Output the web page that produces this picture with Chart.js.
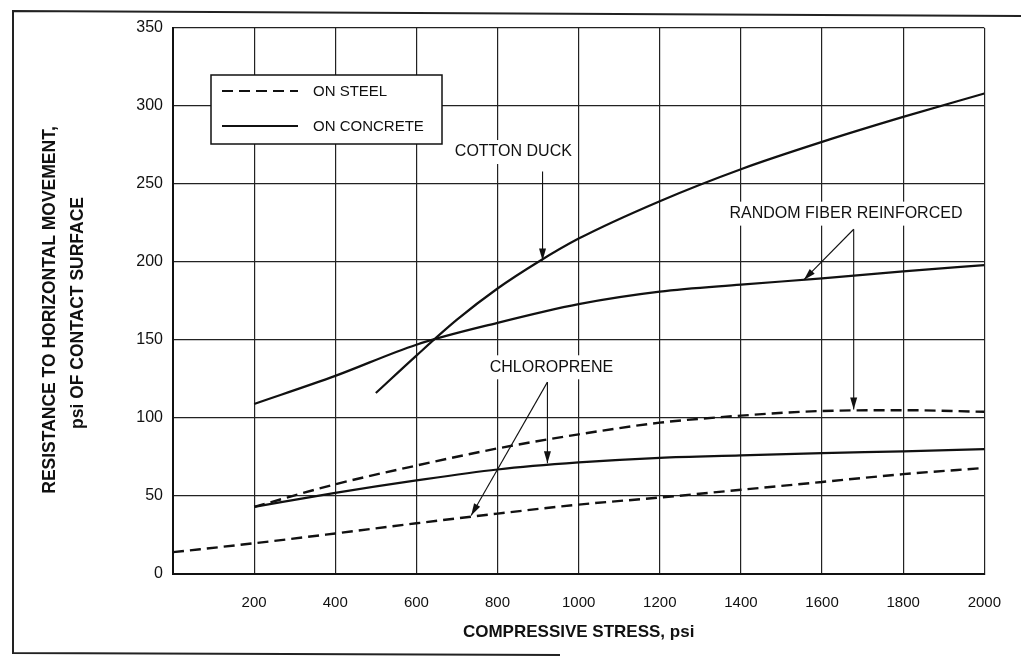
<!DOCTYPE html>
<html>
<head>
<meta charset="utf-8">
<script src="https://cdn.jsdelivr.net/npm/chart.js@4.4.1/dist/chart.umd.min.js"></script>
<style>
html,body{margin:0;padding:0;background:#fff;}
</style>
</head>
<body>
<canvas id="mycanvas" width="1021" height="658"></canvas>
<script>
// values
var xTicks=[0,200,400,600,800,1000,1200,1400,1600,1800,2000];
var yTicks=[0,50,100,150,200,250,300,350];

var cottonX=[500,600,700,800,900,1000,1200,1400,1600,1800,2000];
var cottonY=[116,140,163,183,200,215,239,259.5,277,293,308];

var fiberX=[200,400,600,800,1000,1200,1400,1600,1800,2000];
var fiberConcreteY=[109,127,147,161,173,181,185.5,189.5,194,198];
var fiberSteelY=[43,57.5,69.5,80.5,89.5,97,101.5,104.5,105,104];

var chloroConcreteX=[200,400,600,800,1000,1200,1400,1600,1800,2000];
var chloroConcreteY=[43,52,60,67,71.5,74.5,76,77.5,78.6,80];
var chloroSteelX=[0,200,400,600,800,1000,1200,1400,1600,1800,2000];
var chloroSteelY=[14,19.7,26,32.5,38.7,44.5,49,54,59,64,68];

var yTitle=['RESISTANCE TO HORIZONTAL MOVEMENT,','psi OF CONTACT SURFACE'];
var xTitle='COMPRESSIVE STRESS, psi';

// labels with arrows, in data units: text centre, arrow start, arrow tips
var notes=[
	{text:'COTTON DUCK', x:839, y:270.5, from:[911,258], tips:[[911,201]]},
	{text:'RANDOM FIBER REINFORCED', x:1659, y:231, from:[1678,221], tips:[[1678,105.5],[1555,188.5]]},
	{text:'CHLOROPRENE', x:933, y:132.5, from:[923,123], tips:[[923,71],[735,37.5]]}
];

var fam='"Liberation Sans", Arial, Helvetica, sans-serif';
var ink='#111';

function pts(xs,ys){
	var out=[];
	for(var i in xs){ out.push({x:xs[i],y:ys[i]}); }
	return out;
}

function arrow(ctx,x1,y1,x2,y2){
	ctx.beginPath();
	ctx.moveTo(x1,y1);
	ctx.lineTo(x2,y2);
	ctx.stroke();
	var a=Math.atan2(y2-y1,x2-x1), len=12, w=3.5;
	ctx.beginPath();
	ctx.moveTo(x2,y2);
	ctx.lineTo(x2-len*Math.cos(a)+w*Math.sin(a), y2-len*Math.sin(a)-w*Math.cos(a));
	ctx.lineTo(x2-len*Math.cos(a)-w*Math.sin(a), y2-len*Math.sin(a)+w*Math.cos(a));
	ctx.closePath();
	ctx.fill();
}

var paperPlugin={
	id:'paper',
	beforeDraw:function(chart){
		var c=chart.ctx;
		c.save();
		c.fillStyle='#fff';
		c.fillRect(0,0,chart.width,chart.height);
		// outer frame of the scanned page
		c.strokeStyle='#222';
		c.lineWidth=2;
		c.beginPath();
		c.moveTo(1021,16);
		c.lineTo(13,11);
		c.lineTo(13,653);
		c.lineTo(560,655);
		c.stroke();
		// y axis title, two lines
		c.fillStyle=ink;
		c.font='bold 17.5px '+fam;
		c.textAlign='center';
		c.textBaseline='middle';
		c.translate(50,310);
		c.rotate(-Math.PI/2);
		c.fillText(yTitle[0],0,0);
		c.fillText(yTitle[1],-3,28);
		c.restore();
	},
	afterDatasetsDraw:function(chart){
		var c=chart.ctx, xs=chart.scales.x, ys=chart.scales.y, area=chart.chartArea;
		c.save();
		// notes
		c.font='16px '+fam;
		c.textAlign='center';
		c.textBaseline='middle';
		c.strokeStyle=ink;
		c.fillStyle=ink;
		c.lineWidth=1.1;
		notes.forEach(function(n){
			var tx=xs.getPixelForValue(n.x), ty=ys.getPixelForValue(n.y);
			var w=c.measureText(n.text).width;
			c.fillStyle='#fff';
			c.fillRect(tx-w/2-6,ty-12,w+12,24);
			c.fillStyle=ink;
			c.fillText(n.text,tx,ty);
			var fx=xs.getPixelForValue(n.from[0]), fy=ys.getPixelForValue(n.from[1]);
			n.tips.forEach(function(t){
				arrow(c,fx,fy,xs.getPixelForValue(t[0]),ys.getPixelForValue(t[1]));
			});
		});
		// legend box
		var bx=area.left+38, by=area.top+47, bw=231, bh=69;
		c.fillStyle='#fff';
		c.fillRect(bx,by,bw,bh);
		c.lineWidth=1.5;
		c.strokeRect(bx,by,bw,bh);
		c.lineWidth=2;
		c.setLineDash([11,6]);
		c.beginPath();
		c.moveTo(bx+11,by+16);
		c.lineTo(bx+87,by+16);
		c.stroke();
		c.setLineDash([]);
		c.beginPath();
		c.moveTo(bx+11,by+51);
		c.lineTo(bx+87,by+51);
		c.stroke();
		c.fillStyle=ink;
		c.textAlign='left';
		c.font='15px '+fam;
		c.fillText('ON STEEL',bx+102,by+17);
		c.fillText('ON CONCRETE',bx+102,by+52);
		c.restore();
	}
};

function line(label,data,dashed){
	return {
		label:label,
		data:data,
		borderColor:ink,
		borderWidth:dashed?2.4:2.2,
		borderDash:dashed?[11,6]:[],
		pointRadius:0,
		fill:false,
		tension:0.4,
		cubicInterpolationMode:'monotone'
	};
}

var ctx=document.getElementById('mycanvas');

var chart=new Chart(ctx,{
	type:'line',
	data:{
		datasets:[
			line('Cotton duck, on concrete',pts(cottonX,cottonY),false),
			line('Random fiber reinforced, on concrete',pts(fiberX,fiberConcreteY),false),
			line('Random fiber reinforced, on steel',pts(fiberX,fiberSteelY),true),
			line('Chloroprene, on concrete',pts(chloroConcreteX,chloroConcreteY),false),
			line('Chloroprene, on steel',pts(chloroSteelX,chloroSteelY),true)
		]
	},
	options:{
		responsive:false,
		animation:false,
		layout:{padding:{top:28,right:35,left:0,bottom:0}},
		plugins:{legend:{display:false},tooltip:{enabled:false}},
		scales:{
			x:{
				type:'linear',min:0,max:2000,
				afterBuildTicks:function(s){ s.ticks=xTicks.map(function(v){return {value:v};}); },
				afterFit:function(s){ s.height=84; },
				ticks:{
					color:ink,padding:20,maxRotation:0,autoSkip:false,
					font:{family:fam,size:15},
					callback:function(v){ return v===0?'':String(v); }
				},
				grid:{color:'#222',lineWidth:1.2,drawTicks:false},
				border:{color:ink,width:2},
				title:{display:true,text:xTitle,color:ink,
					font:{family:fam,size:17,weight:'bold'},padding:{top:0,bottom:15}}
			},
			y:{
				min:0,max:350,
				afterBuildTicks:function(s){ s.ticks=yTicks.map(function(v){return {value:v};}); },
				afterFit:function(s){ s.width=173; },
				ticks:{color:ink,padding:10,font:{family:fam,size:16}},
				grid:{color:'#222',lineWidth:1.2,drawTicks:false},
				border:{color:ink,width:2}
			}
		}
	},
	plugins:[paperPlugin]
});
</script>
</body>
</html>
